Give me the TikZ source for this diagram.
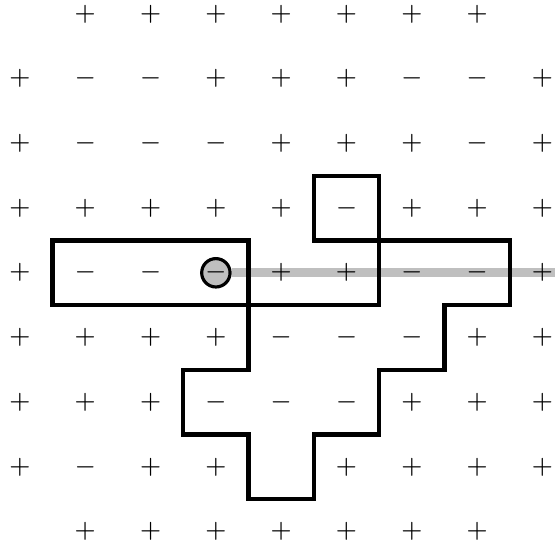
\documentclass[tikz,border=0pt]{standalone}
\usepackage{tikz}
\tikzset{
  sign/.style={inner sep=0pt, font=\fontsize{7.5}{8}\selectfont},
  region/.style={draw=black, line width=1.25pt},
  probe/.style={circle, draw=black, fill=gray!50, line width=0.9pt, minimum size=0.28cm, inner sep=0pt, font=\fontsize{7.5}{8}\selectfont},
  ray/.style={draw=gray!50, line width=2.6pt},
}
\newcommand\sgp{$+$}
\newcommand\sgm{$-$}

\begin{document}
\begin{tikzpicture}[x=0.653cm, y=0.647cm]
\useasboundingbox (-0.306,-8.284) rectangle (8.193,0.216);
\node[probe] (probe) at (3,-4) {$-$};
\coordinate (edge) at (8.193,-4);
\draw[ray] (probe) -- (edge);
% clusters
\draw[region] (0.5,-3.5) rectangle (3.5,-4.5);
\draw[region] (4.5,-2.5) rectangle (5.5,-3.5);
\draw[region] (3.5,-4.5) -| (5.5,-3.5) -| (7.5,-4.5) -| (6.5,-5.5) -| (5.5,-6.5)
  -| (4.5,-7.5) -| (3.5,-6.5) -| (2.5,-5.5) -- (3.5,-5.5) -- cycle;
% spins, top row first (o = none)
\foreach \row [count=\j from 0] in {
  {o,p,p,p,p,p,p,p,o},
  {p,m,m,p,p,p,m,m,p},
  {p,m,m,m,p,p,p,m,p},
  {p,p,p,p,p,m,p,p,p},
  {p,m,m,o,p,p,m,m,p},
  {p,p,p,p,m,m,m,p,p},
  {p,p,p,m,m,m,p,p,p},
  {p,m,p,p,o,p,p,p,p},
  {o,p,p,p,p,p,p,p,o}}
  \foreach \s [count=\i from 0] in \row {
    \if\s o\else\node[sign] (s-\i-\j) at (\i,-\j) {\csname sg\s\endcsname};\fi
  };
\end{tikzpicture}
\end{document}
